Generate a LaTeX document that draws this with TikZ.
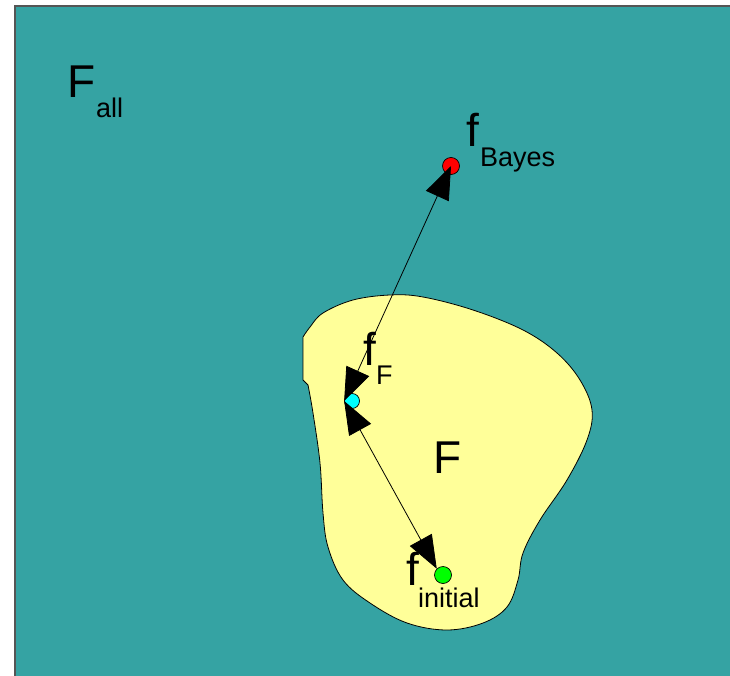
\documentclass[tikz,border=0pt]{standalone}
\usepackage{fontspec}
\setmainfont{Liberation Sans}
\usetikzlibrary{arrows.meta}
\definecolor{sea}{RGB}{53,163,163}
\definecolor{pale}{RGB}{255,255,153}
\definecolor{rim}{RGB}{85,85,85}
\definecolor{aqua}{RGB}{0,255,255}
\definecolor{lime}{RGB}{0,255,0}
\definecolor{scarlet}{RGB}{255,0,0}
\tikzset{
  bigtxt/.style={inner sep=0pt,anchor=base west,font=\fontsize{46}{50}\selectfont},
  subtxt/.style={inner sep=0pt,anchor=base west,font=\fontsize{27}{30}\selectfont},
  dot/.style={circle,draw=black,line width=0.7pt,minimum size=17pt,inner sep=0pt},
  twoway/.style={line width=0.8pt,{Triangle[length=33pt,width=25pt]}-{Triangle[length=33pt,width=25pt]}}
}
\begin{document}
\begin{tikzpicture}[x=1pt,y=-1pt]
\useasboundingbox (0,0) rectangle (730,676);
% the space of all functions
\fill[sea] (15,6) rectangle (740,686);
\draw[rim,line width=2pt] (15,686)--(15,6)--(740,6);
% the class F
\draw[fill=pale,line width=0.8pt] (303,337) -- (303,380) -- (308,385)
  -- plot[smooth,tension=0.6] coordinates {(308,385) (313,413) (320,463) (323,513) (328,547)
     (343,580) (370,603) (407,623) (447,630) (483,623) (507,607) (518,580) (523,553)
     (540,520) (567,480) (587,440) (592,410) (580,380) (557,353) (523,330) (473,310)
     (423,297) (390,295) (353,300) (323,313) (310,327) (303,337)} -- cycle;
% points
\node[dot,fill=scarlet] (bayes) at (451,166) {};
\node[dot,fill=aqua,minimum size=15pt] (ff) at (352,401) {};
\node[dot,fill=lime] (init) at (443,575) {};
\draw[twoway] (ff.west) -- (bayes.center);
\draw[twoway] (ff.west) -- (init.north west);
% labels
\node[bigtxt] (fall) at (67,98) {F};
\node[subtxt] (fallsub) at (96,118) {all};
\node[bigtxt] (fbayes) at (466,147) {f};
\node[subtxt] (fbayessub) at (480,167) {Bayes};
\node[bigtxt] (fclass) at (363,365) {f};
\node[subtxt] (fclasssub) at (376,384) {F};
\node[bigtxt] (region) at (433,473) {F};
\node[bigtxt] (finit) at (406,585) {f};
\node[subtxt] (finitsub) at (418,607) {initial};
\end{tikzpicture}
\end{document}
